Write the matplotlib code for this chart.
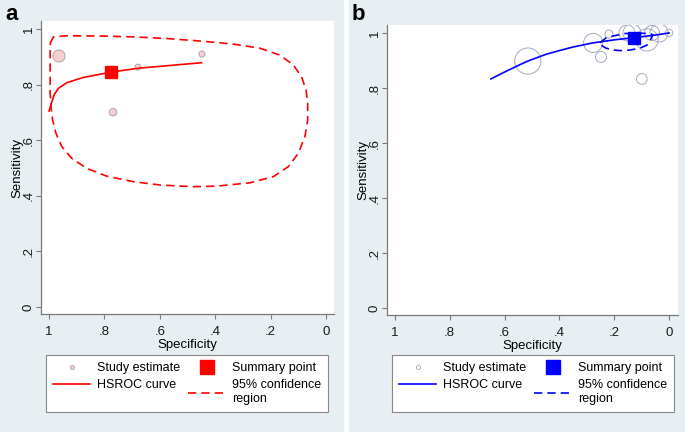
import matplotlib
matplotlib.use("Agg")
import matplotlib.pyplot as plt
from matplotlib.lines import Line2D
from matplotlib.patches import Rectangle

plt.rcParams['font.family'] = ['Liberation Sans', 'DejaVu Sans']

# ---- panel a (red) ----
a_study_spec = [0.964, 0.679, 0.448, 0.769]
a_study_sens = [0.903, 0.863, 0.910, 0.701]
a_study_w = [36, 9, 9, 14]

a_summary = (0.777, 0.845)

a_curve_spec = [1.000, 0.990, 0.982, 0.966, 0.936, 0.876, 0.777, 0.678, 0.575, 0.449]
a_curve_sens = [0.705, 0.738, 0.763, 0.787, 0.807, 0.826, 0.845, 0.859, 0.868, 0.879]

a_region_spec = [0.996, 0.984, 0.936, 0.816, 0.696, 0.575, 0.455, 0.335, 0.238, 0.166,
                 0.118, 0.088, 0.072, 0.066, 0.066, 0.076, 0.100, 0.136, 0.190, 0.274,
                 0.395, 0.479, 0.599, 0.696, 0.792, 0.864, 0.918, 0.954, 0.975, 0.987,
                 0.993, 0.996, 0.996, 0.996, 0.996]
a_region_sens = [0.949, 0.972, 0.976, 0.975, 0.972, 0.966, 0.957, 0.946, 0.931, 0.906,
                 0.871, 0.828, 0.781, 0.733, 0.673, 0.613, 0.553, 0.505, 0.469, 0.447,
                 0.435, 0.433, 0.439, 0.451, 0.471, 0.499, 0.535, 0.577, 0.625, 0.673,
                 0.721, 0.769, 0.828, 0.888, 0.949]

# ---- panel b (blue) ----
b_study_spec = [0.515, 0.277, 0.219, 0.248, 0.153, 0.135, 0.080, 0.062, 0.036, 0.000, 0.099]
b_study_sens = [0.898, 0.964, 0.996, 0.913, 1.000, 1.000, 0.975, 1.000, 1.000, 1.000, 0.833]
b_study_w = [169, 90, 16, 30, 64, 81, 121, 56, 81, 14, 28]

b_summary = (0.128, 0.982)

b_curve_spec = [0.650, 0.600, 0.550, 0.515, 0.450, 0.400, 0.350, 0.277, 0.200, 0.128, 0.060, 0.000]
b_curve_sens = [0.833, 0.858, 0.882, 0.898, 0.922, 0.936, 0.949, 0.964, 0.975, 0.983, 0.991, 1.000]

b_region_spec = [0.252, 0.230, 0.204, 0.161, 0.106, 0.069, 0.058, 0.066, 0.080, 0.106,
                 0.142, 0.179, 0.204, 0.230, 0.248, 0.252]
b_region_sens = [0.964, 0.982, 0.989, 0.998, 0.999, 0.998, 0.993, 0.978, 0.956, 0.945,
                 0.938, 0.936, 0.938, 0.945, 0.956, 0.964]

ticks = [0, 0.2, 0.4, 0.6, 0.8, 1]
tick_labels = ['0', '.2', '.4', '.6', '.8', '1']
legend_labels = ['Study estimate', 'HSROC curve', 'Summary point', '95% confidence\nregion']

W, H = 685, 432
bg = '#e7eff2'
fig = plt.figure(figsize=(W / 100, H / 100), dpi=100)

# panel backgrounds (behind the axes)
fig.patches.append(Rectangle((0, 0), 343 / W, 1, transform=fig.transFigure, color=bg, zorder=-5))
fig.patches.append(Rectangle((349 / W, 0), 1 - 349 / W, 1, transform=fig.transFigure, color=bg, zorder=-5))


def make_panel(rect, xlim, ylim):
    ax = fig.add_axes(rect)
    ax.set_facecolor('white')
    ax.set_xlim(*xlim)
    ax.set_ylim(*ylim)
    ax.set_xticks(ticks)
    ax.set_xticklabels(tick_labels)
    ax.set_yticks(ticks)
    ax.set_yticklabels(tick_labels, rotation=90, va='center')
    for side in ['top', 'right']:
        ax.spines[side].set_visible(False)
    for side in ['left', 'bottom']:
        ax.spines[side].set_color('#7a7a7a')
        ax.spines[side].set_linewidth(0.9)
    ax.tick_params(length=3.5, width=0.8, color='#7a7a7a', labelsize=9.5, labelcolor='#1a1a1a')
    ax.tick_params(axis='x', pad=5)
    ax.tick_params(axis='y', pad=1)
    ax.set_xlabel('Specificity', fontsize=9.5, labelpad=1)
    ax.set_ylabel('Sensitivity', fontsize=9.5, va='center')
    ax.yaxis.set_label_coords(-0.08, 0.5)
    return ax


def add_legend(ax, color, marker_face, marker_edge, x0):
    handles = [
        Line2D([], [], ls='none', marker='o', ms=3, mfc=marker_face, mec=marker_edge, mew=0.6),
        Line2D([], [], color=color, lw=1.2),
        Line2D([], [], ls='none', marker='s', ms=9.5, mfc=color, mec=color),
        Line2D([], [], color=color, lw=1.2, ls=(0, (5, 3))),
    ]
    leg = ax.legend(handles, legend_labels, ncol=2,
                    loc='upper left', bbox_to_anchor=(x0 / W, 1 - 355 / H),
                    bbox_transform=fig.transFigure, fontsize=9, frameon=True,
                    fancybox=False, edgecolor='#888888', framealpha=1,
                    handlelength=3.0, handletextpad=0.55, borderpad=0.55,
                    labelspacing=0.45, borderaxespad=0, columnspacing=0.6)
    leg.get_frame().set_linewidth(0.8)


# ---- panel a ----
ax_a = make_panel([41 / W, 1 - 314 / H, 293 / W, 293 / H], (1.029, -0.029), (-0.025, 1.029))
ax_a.scatter(a_study_spec, a_study_sens, s=[2.1 * w for w in a_study_w],
             facecolor='#f8cfd0', edgecolor='#a8a8a8', linewidth=0.7, zorder=2)
ax_a.plot(a_region_spec, a_region_sens, color='red', lw=1.2, ls=(0, (5, 3)), zorder=3)
ax_a.plot(a_curve_spec, a_curve_sens, color='red', lw=1.2, zorder=3)
ax_a.plot([a_summary[0]], [a_summary[1]], ls='none', marker='s', ms=8.6, color='red', zorder=4)
add_legend(ax_a, 'red', '#f8cfd0', '#a8a8a8', 46)

# ---- panel b ----
ax_b = make_panel([387 / W, 1 - 315 / H, 291 / W, 290 / H], (1.029, -0.033), (-0.025, 1.029))
ax_b.scatter(b_study_spec, b_study_sens, s=[2.1 * w for w in b_study_w],
             facecolor='none', edgecolor='#a8a8c0', linewidth=0.7, zorder=2)
ax_b.plot(b_region_spec, b_region_sens, color='blue', lw=1.2, ls=(0, (5, 3)), zorder=3)
ax_b.plot(b_curve_spec, b_curve_sens, color='blue', lw=1.2, zorder=3)
ax_b.plot([b_summary[0]], [b_summary[1]], ls='none', marker='s', ms=8.6, color='blue', zorder=4)
add_legend(ax_b, 'blue', 'none', '#a8a8a8', 392)

fig.text(5 / W, 1 - 14 / H, 'a', fontsize=16, weight='bold', ha='left', va='center')
fig.text(352 / W, 1 - 14 / H, 'b', fontsize=16, weight='bold', ha='left', va='center')

fig.savefig('out.png', dpi=100)
